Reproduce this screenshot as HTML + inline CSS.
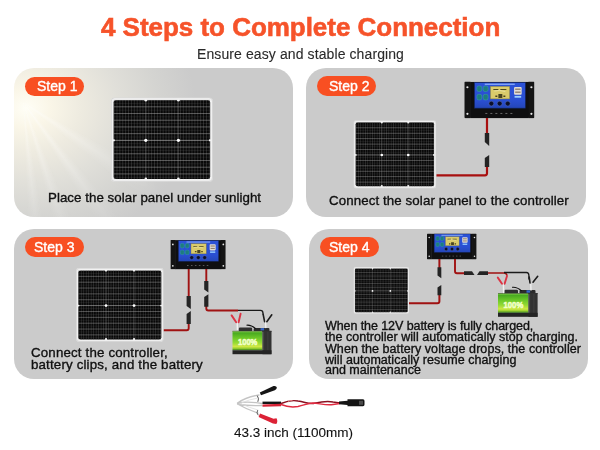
<!DOCTYPE html>
<html><head><meta charset="utf-8">
<style>
html,body{margin:0;padding:0;background:#fff;}
body{width:600px;height:450px;position:relative;overflow:hidden;font-family:"Liberation Sans",sans-serif;}
.abs{position:absolute;}
.card{position:absolute;background:#cbcbcb;border-radius:20px;}
.pill{position:absolute;height:19.4px;border-radius:10px;background:#f84f22;}
.t{position:absolute;white-space:nowrap;color:#101010;line-height:20px;will-change:transform;-webkit-text-stroke:0.35px currentColor;}
.pt{color:#fff;font-size:14px;}
svg text{font-family:"Liberation Sans",sans-serif;}
</style></head><body>

<!-- title -->
<div class="t" style="left:101px;top:17.3px;font-weight:bold;font-size:26px;letter-spacing:-0.03px;color:#f6532a;-webkit-text-stroke:0.6px #f6532a;">4 Steps to Complete Connection</div>
<div class="t" style="left:197.4px;top:44.3px;font-size:14px;letter-spacing:0.1px;color:#2a2a2a;-webkit-text-stroke:0.1px #2a2a2a;">Ensure easy and stable charging</div>

<!-- cards -->
<div class="card" style="left:14px;top:68px;width:279px;height:149px;background:radial-gradient(ellipse 170px 140px at 12px 40px,#fffef6 0%,#faf6e8 14%,#eeebe0 32%,#e0dfd9 55%,#d4d4d1 78%,#cbcbcb 100%);"></div>
<div class="card" style="left:306px;top:68px;width:280px;height:149px;"></div>
<div class="card" style="left:14px;top:229px;width:279px;height:150px;"></div>
<div class="card" style="left:309px;top:229px;width:279px;height:150px;"></div>

<div class="abs" style="left:14px;top:68px;width:279px;height:149px;border-radius:20px;overflow:hidden;background:conic-gradient(from 0deg at 9px 34px, rgba(255,255,255,0) 0deg, rgba(255,255,255,0) 118deg, rgba(255,255,255,.32) 124deg, rgba(255,255,255,0) 130deg, rgba(255,255,255,0) 139deg, rgba(255,255,255,.36) 144deg, rgba(255,255,255,0) 149deg, rgba(255,255,255,0) 157deg, rgba(255,255,255,.32) 162deg, rgba(255,255,255,0) 166deg, rgba(255,255,255,0) 170deg, rgba(255,255,255,.3) 174deg, rgba(255,255,255,0) 178deg, rgba(255,255,255,0) 360deg);-webkit-mask-image:radial-gradient(ellipse 170px 170px at 9px 34px,#000 10%,rgba(0,0,0,.6) 45%,transparent 100%);"></div>
<!-- pills -->
<div class="pill" style="left:25px;top:76.6px;width:58.8px;"></div>
<div class="pill" style="left:316.7px;top:76.4px;width:59.3px;"></div>
<div class="pill" style="left:25px;top:237.3px;width:59px;"></div>
<div class="pill" style="left:319.8px;top:237.3px;width:58.9px;"></div>
<div class="t pt" style="left:37.3px;top:76.1px;">Step 1</div>
<div class="t pt" style="left:329px;top:76.1px;">Step 2</div>
<div class="t pt" style="left:34.3px;top:237.1px;">Step 3</div>
<div class="t pt" style="left:328.6px;top:237.1px;">Step 4</div>

<svg class="abs" style="left:0;top:0" width="600" height="450" viewBox="0 0 600 450">
<defs>
 <linearGradient id="blueG" x1="0" y1="0" x2="0" y2="1">
  <stop offset="0" stop-color="#2c52d8"/><stop offset="0.7" stop-color="#2a4fd2"/><stop offset="1" stop-color="#2446b8"/>
 </linearGradient>
 <linearGradient id="greenG" x1="0" y1="0" x2="0" y2="1">
  <stop offset="0" stop-color="#8ad850"/><stop offset="0.08" stop-color="#48a820"/><stop offset="0.35" stop-color="#6cc828"/><stop offset="0.6" stop-color="#94da34"/><stop offset="0.8" stop-color="#cfe844"/><stop offset="0.9" stop-color="#9ad030"/><stop offset="1" stop-color="#2e7a16"/>
 </linearGradient>
 <pattern id="vpat" patternUnits="userSpaceOnUse" width="2.85" height="10" x="2.6">
  <rect x="0" y="0" width="0.9" height="10" fill="#4a4a4a"/>
 </pattern>
 <symbol id="pnl" viewBox="0 0 100.6 83.8" preserveAspectRatio="none">
  <rect x="0" y="0" width="100.6" height="83.8" rx="3.5" fill="#f2f2f2"/>
  <rect x="0.3" y="0.3" width="100" height="83.2" rx="3.5" fill="none" stroke="#c4c4c4" stroke-width="0.6"/>
  <rect x="2.6" y="2.6" width="95.4" height="78.6" rx="2.5" fill="#080808"/>
  <rect x="2.6" y="2.6" width="95.4" height="78.6" fill="url(#vpat)" opacity="0.55"/>
  <rect x="2.6" y="2.18" width="95.4" height="1" fill="#c0c0c0" opacity="0.42"/>
  <rect x="2.6" y="5.61" width="95.4" height="0.8" fill="#808080" opacity="0.18"/>
  <rect x="2.6" y="8.85" width="95.4" height="1" fill="#c0c0c0" opacity="0.42"/>
  <rect x="2.6" y="12.28" width="95.4" height="0.8" fill="#808080" opacity="0.18"/>
  <rect x="2.6" y="15.52" width="95.4" height="1" fill="#c0c0c0" opacity="0.42"/>
  <rect x="2.6" y="18.95" width="95.4" height="0.8" fill="#808080" opacity="0.18"/>
  <rect x="2.6" y="22.19" width="95.4" height="1" fill="#c0c0c0" opacity="0.42"/>
  <rect x="2.6" y="25.62" width="95.4" height="0.8" fill="#808080" opacity="0.18"/>
  <rect x="2.6" y="28.86" width="95.4" height="1" fill="#c0c0c0" opacity="0.42"/>
  <rect x="2.6" y="32.29" width="95.4" height="0.8" fill="#808080" opacity="0.18"/>
  <rect x="2.6" y="35.53" width="95.4" height="1" fill="#c0c0c0" opacity="0.42"/>
  <rect x="2.6" y="38.96" width="95.4" height="0.8" fill="#808080" opacity="0.18"/>
  <rect x="2.6" y="42.20" width="95.4" height="1" fill="#c0c0c0" opacity="0.6"/>
  <rect x="2.6" y="45.63" width="95.4" height="0.8" fill="#808080" opacity="0.18"/>
  <rect x="2.6" y="48.87" width="95.4" height="1" fill="#c0c0c0" opacity="0.42"/>
  <rect x="2.6" y="52.30" width="95.4" height="0.8" fill="#808080" opacity="0.18"/>
  <rect x="2.6" y="55.54" width="95.4" height="1" fill="#c0c0c0" opacity="0.42"/>
  <rect x="2.6" y="58.97" width="95.4" height="0.8" fill="#808080" opacity="0.18"/>
  <rect x="2.6" y="62.21" width="95.4" height="1" fill="#c0c0c0" opacity="0.42"/>
  <rect x="2.6" y="65.64" width="95.4" height="0.8" fill="#808080" opacity="0.18"/>
  <rect x="2.6" y="68.88" width="95.4" height="1" fill="#c0c0c0" opacity="0.42"/>
  <rect x="2.6" y="72.31" width="95.4" height="0.8" fill="#808080" opacity="0.18"/>
  <rect x="2.6" y="75.55" width="95.4" height="1" fill="#c0c0c0" opacity="0.42"/>
  <rect x="2.6" y="78.98" width="95.4" height="0.8" fill="#808080" opacity="0.18"/>
  <rect x="33.9" y="2.6" width="1" height="78.6" fill="#a0a0a0" opacity="0.3"/>
  <rect x="66.1" y="2.6" width="1" height="78.6" fill="#a0a0a0" opacity="0.3"/>
  <circle cx="34.4" cy="42.7" r="1.6" fill="#fff"/><circle cx="66.6" cy="42.7" r="1.6" fill="#fff"/>
  <circle cx="34.4" cy="2.8" r="1.3" fill="#f2f2f2"/><circle cx="66.6" cy="2.8" r="1.3" fill="#f2f2f2"/>
  <circle cx="34.4" cy="81" r="1.3" fill="#f2f2f2"/><circle cx="66.6" cy="81" r="1.3" fill="#f2f2f2"/>
  <circle cx="2.8" cy="42.7" r="1.1" fill="#f2f2f2"/><circle cx="97.8" cy="42.7" r="1.1" fill="#f2f2f2"/>
 </symbol>
 <symbol id="ctrl" viewBox="0 0 70 37" preserveAspectRatio="none">
  <rect x="0" y="0" width="6.6" height="36.8" rx="1.2" fill="#141414"/>
  <rect x="63.6" y="0" width="6.5" height="36.8" rx="1.2" fill="#141414"/>
  <circle cx="3.1" cy="5.7" r="1.1" fill="#e8e8e8"/><circle cx="3.1" cy="32.4" r="1.1" fill="#e8e8e8"/>
  <circle cx="67" cy="5.7" r="1.1" fill="#e8e8e8"/><circle cx="67" cy="32.4" r="1.1" fill="#e8e8e8"/>
  <rect x="6" y="0.3" width="58.3" height="36.5" fill="#0f0f10"/>
  <rect x="10.1" y="0.8" width="50.9" height="25.9" fill="url(#blueG)" stroke="#13245e" stroke-width="0.6"/>
  <rect x="20.4" y="2" width="30" height="1.4" fill="#9fc0ff" opacity="0.75"/>
  <rect x="26.1" y="4.8" width="19.2" height="12.6" fill="#dacb6a" stroke="#8a8240" stroke-width="0.5"/>
  <path d="M29 7.5h5v1h-5zM36 7.5h6v1h-6zM31 14h2v1.5h-2zM34 12.5h4v4h-4zM39 14h2v1.5h-2z" fill="#4a4520"/><path d="M30 9.5 Q35 8 41 10" stroke="#f0ecc0" stroke-width="0.6" fill="none"/>
  <g fill="#1d7c80" stroke="#3aa8a0" stroke-width="0.5"><rect x="12.6" y="4.4" width="4.8" height="5.6" rx="1.8"/><rect x="18.9" y="4.4" width="4.8" height="5.6" rx="1.8"/><rect x="12.6" y="12.8" width="4.8" height="5.6" rx="1.8"/><rect x="18.9" y="12.8" width="4.8" height="5.6" rx="1.8"/></g>
  <circle cx="27" cy="22.1" r="2.4" fill="#0b0f2a" stroke="#6a7ab0" stroke-width="0.4"/>
  <circle cx="35.3" cy="22.1" r="2.4" fill="#0b0f2a" stroke="#6a7ab0" stroke-width="0.4"/>
  <circle cx="43.4" cy="22.1" r="2.4" fill="#0b0f2a" stroke="#6a7ab0" stroke-width="0.4"/>
  <rect x="49.7" y="5.4" width="7.6" height="7.7" rx="1" fill="#e2dcd4"/>
  <rect x="50.8" y="7" width="5.4" height="1.3" fill="#8a7a6a"/><rect x="50.8" y="10" width="5.4" height="1.3" fill="#8a7a6a"/>
  <rect x="50.2" y="14.4" width="6.6" height="1.8" fill="#9ad0ff"/>
  <g fill="#6a6a6a"><rect x="21" y="31.5" width="2" height="1"/><rect x="26" y="31.5" width="2" height="1"/><rect x="31" y="31.5" width="2" height="1"/><rect x="36" y="31.5" width="2" height="1"/><rect x="41" y="31.5" width="2" height="1"/><rect x="46" y="31.5" width="2" height="1"/></g>
 </symbol>
 <symbol id="batt" viewBox="0 0 39.6 27" overflow="visible">
  <rect x="6.4" y="-0.8" width="13.6" height="4.2" rx="1.2" fill="#303030"/>
  <rect x="21.5" y="-0.4" width="16" height="3.8" rx="1" fill="#2b2b2b"/>
  <path d="M14.2 -3.1 Q18.5 -3.8 23.6 0.4" fill="none" stroke="#111" stroke-width="1.1"/>
  <rect x="28.5" y="-0.2" width="3.6" height="2.4" fill="#3565c8"/>
  <rect x="0" y="2.6" width="39.6" height="1" fill="#3a3a3a"/>
  <rect x="0" y="3.1" width="30.4" height="19.2" fill="url(#greenG)"/>
  <rect x="30.4" y="2.6" width="9.2" height="23.7" fill="#323232"/>
  <rect x="31.2" y="3.5" width="0.9" height="19" fill="#4c4c4c"/>
  <rect x="35.6" y="3.5" width="0.7" height="19" fill="#444"/>
  <rect x="0" y="22.3" width="39.6" height="4" fill="#242424"/>
  <text x="15.4" y="17.1" text-anchor="middle" textLength="19.6" lengthAdjust="spacingAndGlyphs" style="font-weight:bold;font-size:9.9px" fill="#f6ffd8" stroke="#f0ffc0" stroke-width="0.65">100%</text>
 </symbol>
</defs>

<!-- panels -->
<use href="#pnl" x="111" y="97.4" width="101.8" height="84.3"/>
<use href="#pnl" x="353.5" y="120.2" width="82.7" height="68.2"/>
<use href="#pnl" x="76.1" y="268.1" width="87.5" height="73.6"/>
<use href="#pnl" x="353.5" y="267.1" width="55.6" height="46.7"/>

<!-- controllers -->
<use href="#ctrl" x="464.3" y="81.6" width="70.1" height="36.8"/>
<use href="#ctrl" x="170.4" y="239.9" width="55.3" height="29.6"/>
<use href="#ctrl" x="427" y="233.4" width="49.6" height="26.2"/>

<g fill="none" stroke-linejoin="round">
 <!-- card 2 wire -->
 <path d="M487 118 V134 M487 166 V173.3 Q487 175.3 485 175.3 H436.5" stroke="#a81010" stroke-width="2.2"/>
 <!-- card 3 wires -->
 <path d="M188.7 269 V297 M188.7 323 V328.3 Q188.7 330.3 186.7 330.3 H163.8" stroke="#a01212" stroke-width="1.9"/>
 <path d="M206.3 269 V282 M206.3 305 V308.5 Q206.3 310.5 208.3 310.5 H238" stroke="#a01212" stroke-width="1.9"/>
 <path d="M238 310.3 H260.5 Q262.8 310.3 263 313 L263.1 314.5" stroke="#1a1a1a" stroke-width="1.3"/>
 <!-- card 4 wires -->
 <path d="M439.4 259 V268 M439.4 294 V301.3 Q439.4 303.3 437.4 303.3 H409" stroke="#a01212" stroke-width="2"/>
 <path d="M455 259 V271.3 Q455 273.3 457 273.3 H464" stroke="#a01212" stroke-width="1.9"/>
 <path d="M488 273 H504 Q506.5 273 507 275.5" stroke="#a01212" stroke-width="1.5"/>
 <path d="M504 272.5 H526.5 Q528.8 272.5 528.9 275.5 L528.9 279.5" stroke="#1a1a1a" stroke-width="1.3"/>
</g>
<g fill="#242424">
 <!-- card 2 connectors -->
 <path d="M484.8 133 H489.2 V146 L484.8 142z"/>
 <path d="M484.8 158 L489.2 155 V167 H484.8z"/>
 <!-- card 3 connectors -->
 <path d="M186.6 296 H190.8 V309 L186.6 306z"/>
 <path d="M186.6 314 L190.8 311 V324 H186.6z"/>
 <path d="M204.2 281 H208.4 V292.5 L204.2 289.5z"/>
 <path d="M204.2 297 L208.4 294.2 V306.7 H204.2z"/>
 <!-- card 4 connectors -->
 <path d="M437.5 267.2 H441.3 V278.2 L437.5 275.5z"/>
 <path d="M437.5 287.5 L441.3 285 V295.3 H437.5z"/>
 <path d="M464 271.3 H472 L474.5 274.9 H464z"/>
 <path d="M477 274.9 L479.5 271.3 H488 V274.9z"/>
</g>

<!-- batteries -->
<use href="#batt" x="232.5" y="328.3" width="39" height="26.6"/>
<use href="#batt" x="498" y="290.5" width="39.6" height="27"/>

<!-- clips -->
<g stroke-linecap="round" fill="none">
 <path d="M237.2 322 L237.4 329.5" stroke="#f2f2f2" stroke-width="1.4"/>
 <path d="M231.6 315.4 L236.2 322.3 M240.6 313.7 L238.6 322.3" stroke="#dc3444" stroke-width="1.9"/>
 <path d="M265.6 321.5 L265.8 327.5" stroke="#f2f2f2" stroke-width="1.3"/>
 <path d="M263.1 314.2 L264.6 321.7 M271.8 314.8 L266.8 321.7" stroke="#1c1c1c" stroke-width="1.6"/>
 <path d="M503.4 284 L503.6 292.5" stroke="#f2f2f2" stroke-width="1.4"/>
 <path d="M497.8 277.6 L502 283.8 M507 276 L504.6 283.8" stroke="#dc3444" stroke-width="1.9"/>
 <path d="M530.8 284 L531 290" stroke="#f2f2f2" stroke-width="1.3"/>
 <path d="M529.2 277 L530 283 M537.7 276.3 L533 282.2" stroke="#1c1c1c" stroke-width="1.6"/>
</g>

<!-- bottom cable -->
<g stroke-linecap="round" fill="none">
 <path d="M237.5 403 Q246 397 259 395 M237.5 403 Q248 401 262 403.5 M237.5 404 Q248 406 262 405.5 M237.5 404 Q246 409 258 413" stroke="#c4c4c4" stroke-width="1.3"/><path d="M240 403.5 Q250 399 258 398 M240 403.5 Q250 408 258 410" stroke="#dedede" stroke-width="0.8"/>
 <path d="M257.5 396 Q259.5 398.5 258 401.5 M257.5 410.5 Q256 413 258 415" stroke="#333" stroke-width="0.8"/>
 <path d="M259.8 392.6 L273.5 386 Q276.5 385.5 276.8 387.5 Q277 389.3 274.8 390.2 L261 395.2z" fill="#151515" stroke="none"/>
 <path d="M260 413.6 L273.5 418.8 L276.5 418.2 Q278.2 421.3 276.3 424 L273 423.6 L258.6 417z" fill="#dc2236" stroke="none"/>
 <path d="M262.5 402.8 H281" stroke="#151515" stroke-width="2.4" stroke-linecap="butt"/>
 <path d="M262.5 405.6 L281 405" stroke="#d82236" stroke-width="2.4" stroke-linecap="butt"/>
 <path d="M281 403.5 C287 401 292 400 298 401 C305 402 308 404 313 403.5 C320 402 326 400.5 333 402 L340 403" stroke="#8a1020" stroke-width="1.4"/>
 <path d="M281 404.5 C287 407 292 407.5 298 406.5 C305 405 308 403 313 403 C320 403.5 326 405.5 333 404.5 L340 403.5" stroke="#e02a40" stroke-width="1.4"/>
 <path d="M288 402 Q289.5 399.5 292 400.5" stroke="#e88" stroke-width="0.8"/>
</g>
<path d="M339 401.5 L347.5 400.8 V399.2 H363 Q364.5 399.2 364.5 401 V404.5 Q364.5 406.3 363 406.3 H347.5 V405 L339 404.2z" fill="#141414"/>
<rect x="359" y="400.8" width="4" height="4" fill="#4a4a4a"/>
</svg>

<!-- texts -->
<div class="t" style="left:48px;top:188px;font-size:13.3px;letter-spacing:0.046px;">Place the solar panel under sunlight</div>
<div class="t" style="left:328.6px;top:191px;font-size:13.3px;letter-spacing:0.1px;">Connect the solar panel to the controller</div>
<div class="t" style="left:30.8px;top:343.2px;font-size:13.3px;letter-spacing:0.168px;">Connect the controller,</div>
<div class="t" style="left:30.8px;top:354.9px;font-size:13.3px;letter-spacing:0.162px;">battery clips, and the battery</div>
<div class="t" style="left:324.6px;top:315.9px;font-size:12.5px;letter-spacing:-0.081px;">When the 12V battery is fully charged,</div>
<div class="t" style="left:324.8px;top:327.1px;font-size:12.5px;letter-spacing:0.032px;">the controller will automatically stop charging.</div>
<div class="t" style="left:324.6px;top:338.7px;font-size:12.5px;letter-spacing:0.067px;">When the battery voltage drops, the controller</div>
<div class="t" style="left:324.6px;top:349.5px;font-size:12.5px;letter-spacing:0.03px;">will automatically resume charging</div>
<div class="t" style="left:324.6px;top:360px;font-size:12.5px;letter-spacing:0px;">and maintenance</div>
<div class="t" style="left:234px;top:422.6px;font-size:13.5px;letter-spacing:0px;-webkit-text-stroke:0.1px #101010;">43.3 inch (1100mm)</div>

</body></html>
